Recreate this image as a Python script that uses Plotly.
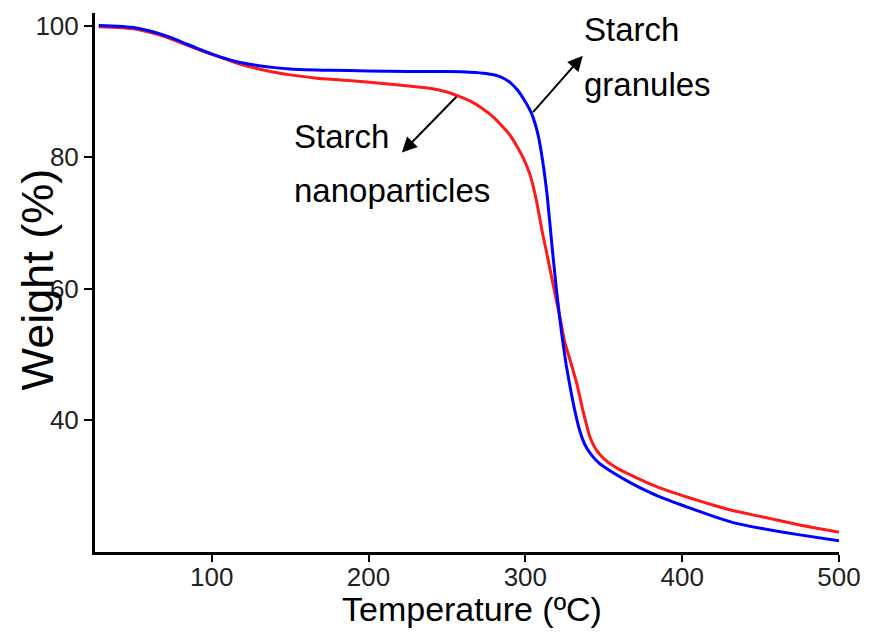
import plotly.graph_objects as go

# Starch granules (blue)
granules_temp = [28, 40, 50, 60, 70, 80, 90, 100, 110, 120, 130, 140, 150, 175, 200, 225,
                 250, 265, 275, 283, 290, 295, 300, 304, 308, 311, 314, 317, 320, 323, 326,
                 329, 332, 335, 338, 342, 347, 355, 368, 380, 390, 400, 420, 432, 450, 475, 500]
granules_weight = [100.0, 99.9, 99.7, 99.2, 98.5, 97.6, 96.6, 95.7, 94.9, 94.3, 93.9, 93.6, 93.4,
                   93.2, 93.1, 93.0, 93.0, 92.9, 92.7, 92.3, 91.4, 90.2, 88.4, 86.6, 83.5, 79.5,
                   74.0, 66.5, 59.5, 53.5, 48.5, 44.5, 41.0, 38.2, 36.3, 34.8, 33.5, 32.2, 30.4,
                   29.0, 28.0, 27.1, 25.4, 24.5, 23.6, 22.6, 21.7]

# Starch nanoparticles (red)
nano_temp = [28, 40, 50, 60, 70, 80, 90, 100, 110, 120, 130, 140, 150, 167, 185, 209, 230, 241,
             250, 257, 265, 273, 280, 286, 290, 295, 299, 303, 307, 311, 314, 317, 320, 323, 325,
             329, 333, 337, 341, 345, 350, 358, 368, 379, 392, 405, 420, 432, 450, 475, 500]
nano_weight = [99.8, 99.7, 99.5, 99.0, 98.3, 97.4, 96.5, 95.6, 94.8, 94.0, 93.4, 92.9, 92.5, 92.0,
               91.7, 91.2, 90.7, 90.4, 89.9, 89.3, 88.5, 87.3, 86.0, 84.5, 83.4, 81.5, 79.7, 77.3,
               73.5, 68.4, 65.0, 61.5, 58.0, 54.5, 52.0, 48.8, 45.4, 41.2, 37.6, 35.6, 34.2, 32.8,
               31.6, 30.4, 29.2, 28.2, 27.1, 26.3, 25.4, 24.1, 23.0]

x_ticks = [100, 200, 300, 400, 500]
y_ticks = [40, 60, 80, 100]

SANS = "Liberation Sans, Arial, sans-serif"

fig = go.Figure()
fig.add_trace(go.Scatter(x=nano_temp, y=nano_weight, mode="lines",
                         line=dict(color="#ff1a1a", width=3, shape="spline", smoothing=0.5),
                         name="Starch nanoparticles", showlegend=False))
fig.add_trace(go.Scatter(x=granules_temp, y=granules_weight, mode="lines",
                         line=dict(color="#0000ff", width=3, shape="spline", smoothing=0.5),
                         name="Starch granules", showlegend=False))

fig.update_layout(
    width=879, height=636,
    margin=dict(l=95, r=40, t=13, b=84),
    paper_bgcolor="white", plot_bgcolor="white",
    xaxis=dict(range=[25.6, 500], tickvals=x_ticks, ticks="outside", ticklen=7, tickwidth=2,
               tickcolor="black", showline=True, linecolor="black", linewidth=3,
               showgrid=False, zeroline=False, ticklabelstandoff=-7,
               tickfont=dict(family=SANS, size=26, color="#222")),
    yaxis=dict(range=[20, 101.9], tickvals=y_ticks, ticks="outside", ticklen=8, tickwidth=2,
               tickcolor="black", showline=True, linecolor="black", linewidth=3,
               showgrid=False, zeroline=False,
               tickfont=dict(family=SANS, size=26, color="#222")),
)

ann_font = dict(family=SANS, size=33, color="black")
annotations = [
    # axis titles
    dict(text="Temperature (ºC)", xref="paper", yref="paper", x=0.507, y=-0.105,
         xanchor="center", yanchor="middle", showarrow=False,
         font=dict(family=SANS, size=34, color="black")),
    dict(text="Weight (%)", xref="paper", yref="paper", x=-0.077, y=0.505,
         xanchor="center", yanchor="middle", showarrow=False, textangle=-90,
         font=dict(family=SANS, size=45, color="black")),
    # labels
    dict(text="Starch", x=336, y=99.4, xanchor="left", yanchor="middle", showarrow=False,
         font=ann_font),
    dict(text="granules", x=336, y=91.0, xanchor="left", yanchor="middle", showarrow=False,
         font=ann_font),
    dict(text="Starch", x=151, y=83.1, xanchor="left", yanchor="middle", showarrow=False,
         font=ann_font),
    dict(text="nanoparticles", x=151, y=74.9, xanchor="left", yanchor="middle", showarrow=False,
         font=ann_font),
    # arrows
    dict(text="", x=336.6, y=95.4, ax=304.1, ay=86.6, axref="x", ayref="y",
         showarrow=True, arrowhead=2, arrowsize=1.5, arrowwidth=2, arrowcolor="black"),
    dict(text="", x=221.3, y=80.7, ax=257.0, ay=89.4, axref="x", ayref="y",
         showarrow=True, arrowhead=2, arrowsize=1.5, arrowwidth=2, arrowcolor="black"),
]
fig.update_layout(annotations=annotations)

fig.write_html("out.html")
